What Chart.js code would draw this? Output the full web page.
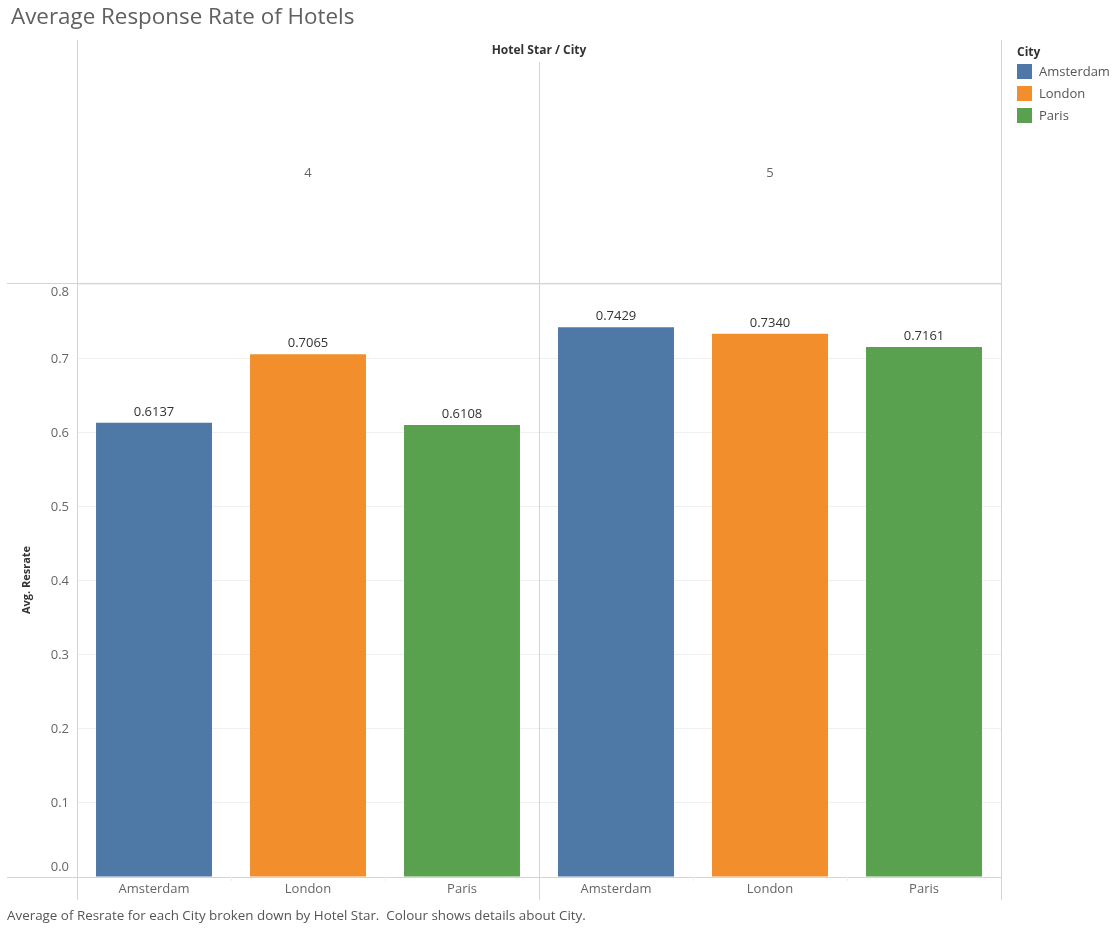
<!DOCTYPE html>
<html>
<head>
<meta charset="utf-8">
<script src="https://cdn.jsdelivr.net/npm/chart.js@4/dist/chart.umd.min.js"></script>
<style>
  body { margin: 0; background: #fff; font-family: "Open Sans", "DejaVu Sans", sans-serif; }
  #wrap { position: relative; width: 1117px; height: 929px; overflow: hidden; }
  #chart { position: absolute; left: 0; top: 0; }
  .title { position: absolute; left: 11px; top: 0px; font-size: 22.4px; color: #606060; }
  .caption { position: absolute; left: 7px; top: 906px; font-size: 13.4px; color: #555; white-space: pre; }
  .legend { position: absolute; left: 1017px; top: 43px; font-size: 13px; color: #555; }
  .legend .head { font-weight: bold; color: #333; font-size: 12px; margin-bottom: 0px; }
  .legend .item { height: 22px; display: flex; align-items: center; }
  .legend .sw { width: 15px; height: 15px; margin-right: 7px; }
</style>
</head>
<body>
<div id="wrap">
  <canvas id="chart" width="1117" height="929"></canvas>
  <div class="title">Average Response Rate of Hotels</div>
  <div class="legend" id="legend"></div>
  <div class="caption">Average of Resrate for each City broken down by Hotel Star.  Colour shows details about City.</div>
</div>
<script>
const stars = ['4', '5'];
const cities = ['Amsterdam', 'London', 'Paris'];
const cityColors = ['#4e79a7', '#f28e2b', '#59a14f'];
const star4Values = [0.6137, 0.7065, 0.6108];
const star5Values = [0.7429, 0.7340, 0.7161];
const yTicks = [0, 0.1, 0.2, 0.3, 0.4, 0.5, 0.6, 0.7, 0.8];

// legend
const legend = document.getElementById('legend');
legend.innerHTML = '<div class="head">City</div>' + cities.map((c, i) =>
  `<div class="item"><div class="sw" style="background:${cityColors[i]}"></div>${c}</div>`).join('');

const labels = [];
const values = [];
const colors = [];
stars.forEach((s, si) => {
  const vals = si === 0 ? star4Values : star5Values;
  cities.forEach((c, ci) => {
    labels.push(c);
    values.push(vals[ci]);
    colors.push(cityColors[ci]);
  });
});

const tickFont = '13px "Open Sans", sans-serif';

const frame = {
  id: 'frame',
  afterDraw(chart) {
    const ctx = chart.ctx;
    const a = chart.chartArea;
    const x = chart.scales.x;
    const y = chart.scales.y;
    const mid = (x.getPixelForValue(2) + x.getPixelForValue(3)) / 2;
    ctx.save();
    ctx.strokeStyle = '#d4d4d4';
    ctx.lineWidth = 1;
    ctx.beginPath();
    // vertical lines
    ctx.moveTo(a.left + 0.5, 40); ctx.lineTo(a.left + 0.5, 900);
    ctx.moveTo(Math.round(mid) + 0.5, 62); ctx.lineTo(Math.round(mid) + 0.5, 900);
    ctx.moveTo(a.right + 0.5, 40); ctx.lineTo(a.right + 0.5, 900);
    // horizontal lines
    ctx.moveTo(7, a.top + 0.5); ctx.lineTo(a.right, a.top + 0.5);
    ctx.moveTo(7, a.bottom + 0.5); ctx.lineTo(a.right, a.bottom + 0.5);
    ctx.stroke();

    // small ticks between categories
    ctx.strokeStyle = '#eeeeee';
    ctx.beginPath();
    for (let i = 0; i < labels.length - 1; i++) {
      if (i === 2) continue;
      const xx = Math.round((x.getPixelForValue(i) + x.getPixelForValue(i + 1)) / 2) + 0.5;
      ctx.moveTo(xx, a.bottom); ctx.lineTo(xx, a.bottom + 4);
    }
    ctx.stroke();

    ctx.textAlign = 'center';
    ctx.textBaseline = 'middle';

    // end tick labels pushed inside the pane, as in the original
    ctx.font = tickFont;
    ctx.fillStyle = '#666';
    ctx.textAlign = 'right';
    ctx.fillText(yTicks[0].toFixed(1), a.left - 8, y.getPixelForValue(yTicks[0]) - 10);
    ctx.fillText(yTicks[8].toFixed(1), a.left - 8, y.getPixelForValue(yTicks[8]) + 7);
    ctx.textAlign = 'center';

    // headers
    ctx.fillStyle = '#333';
    ctx.font = 'bold 12px "Open Sans", sans-serif';
    ctx.fillText('Hotel Star / City', mid, 51);
    ctx.font = tickFont;
    ctx.fillStyle = '#666';
    ctx.fillText(stars[0], (a.left + mid) / 2, 173);
    ctx.fillText(stars[1], (mid + a.right) / 2, 173);

    // axis title
    ctx.save();
    ctx.translate(27, 580);
    ctx.rotate(-Math.PI / 2);
    ctx.font = 'bold 11px "Open Sans", sans-serif';
    ctx.fillStyle = '#333';
    ctx.fillText('Avg. Resrate', 0, 0);
    ctx.restore();

    // value labels
    const meta = chart.getDatasetMeta(0);
    ctx.font = tickFont;
    ctx.fillStyle = '#333';
    meta.data.forEach((bar, i) => {
      ctx.fillText(values[i].toFixed(4), bar.x, bar.y - 11);
    });
    ctx.restore();
  }
};

new Chart(document.getElementById('chart'), {
  type: 'bar',
  data: {
    labels: labels,
    datasets: [{
      data: values,
      backgroundColor: colors,
      borderWidth: 0,
      categoryPercentage: 1,
      barPercentage: 0.753
    }]
  },
  options: {
    responsive: false,
    animation: false,
    layout: { padding: { top: 283, right: 116, left: 0, bottom: 0 } },
    plugins: { legend: { display: false }, tooltip: { enabled: false } },
    scales: {
      x: {
        grid: { display: false, drawTicks: false },
        border: { display: false },
        ticks: { color: '#666', font: { size: 13, family: '"Open Sans", sans-serif' }, padding: 4, maxRotation: 0 },
        afterFit(scale) { scale.height = 52; }
      },
      y: {
        min: 0,
        max: 0.8027,
        afterBuildTicks(scale) { scale.ticks = yTicks.map(v => ({ value: v })); },
        grid: { color: '#f0f0f0', drawTicks: false },
        border: { display: false },
        ticks: {
          color: '#666',
          font: { size: 13, family: '"Open Sans", sans-serif' },
          padding: 8,
          callback: (v, i) => (i === 0 || i === yTicks.length - 1) ? '' : v.toFixed(1)
        },
        afterFit(scale) { scale.width = 77; }
      }
    }
  },
  plugins: [frame]
});
</script>
</body>
</html>
